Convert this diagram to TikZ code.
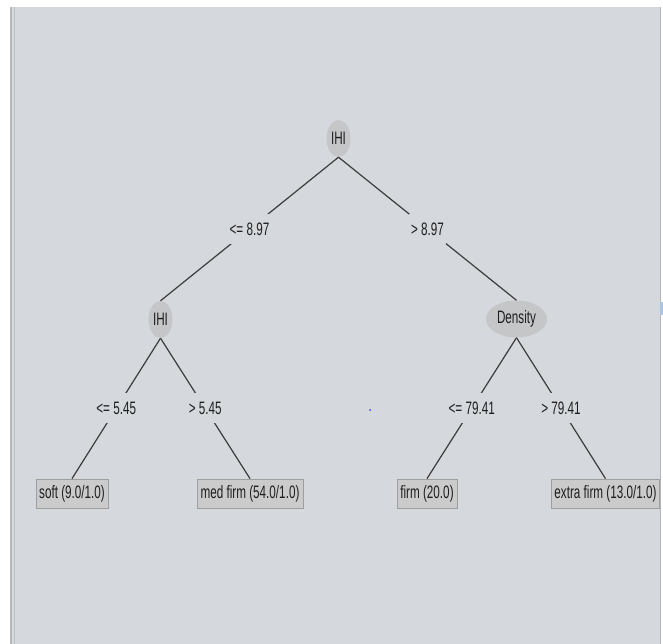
\documentclass[tikz,border=0pt]{standalone}
\usepackage{fontspec}
\setmainfont[FakeStretch=0.65]{Liberation Sans}
\usetikzlibrary{shapes.geometric}
\definecolor{panel}{HTML}{D5D8DD}
\definecolor{panelEdge}{HTML}{B4B7BC}
\definecolor{nodefill}{HTML}{C5C6C8}
\definecolor{leaffill}{HTML}{CBCBCB}
\definecolor{leafedge}{HTML}{9E9E9E}
\definecolor{edgecol}{HTML}{3C3C3C}
\definecolor{txt}{HTML}{1E1E1E}
\definecolor{markblue}{HTML}{A9C6E6}
\begin{document}
\begin{tikzpicture}[x=1pt,y=-1pt,
  every node/.style={font=\fontsize{18}{20}\selectfont, text=txt},
  split/.style={ellipse, fill=nodefill, inner sep=0pt, minimum height=37pt},
  leaf/.style={rectangle, fill=leaffill, draw=leafedge, line width=0.8pt, inner sep=0pt, minimum height=29pt},
  conn/.style={draw=edgecol, line width=1.2pt},
  lbl/.style={fill=panel, inner xsep=2pt, inner ysep=8.5pt, text height=13pt, text depth=0pt}
]
\useasboundingbox (0,0) rectangle (663,644);
\fill[white] (0,0) rectangle (663,644);
\fill[panel] (10,7) rectangle (661,644);
\fill[panelEdge] (10,7) rectangle (12,644);
\fill[panelEdge!80!panel] (14,7) rectangle (15,644);
\fill[panelEdge] (660,7) rectangle (661,644);
\fill[markblue] (660,302) rectangle (663,315);
\fill[blue!75] (370,410) circle (1pt);

\node[split, minimum width=24pt] (root) at (338.5,138.5) {IHI};
\node[split, minimum width=24pt] (ihiL) at (160.5,319.5) {IHI};
\node[split, minimum width=61pt] (dens) at (516.5,319) {Density};

\node[leaf, minimum width=72pt] (soft) at (72,493.5) {soft (9.0/1.0)};
\node[leaf, minimum width=106pt] (med) at (250,493.5) {med firm (54.0/1.0)};
\node[leaf, minimum width=60pt] (firm) at (427,493.5) {firm (20.0)};
\node[leaf, minimum width=108pt] (xfirm) at (605.5,493.5) {extra firm (13.0/1.0)};

\draw[conn] (root.south) -- node[lbl] {<= 8.97} (ihiL.north);
\draw[conn] (root.south) -- node[lbl] {> 8.97} (dens.north);
\draw[conn] (ihiL.south) -- node[lbl] {<= 5.45} (soft.north);
\draw[conn] (ihiL.south) -- node[lbl] {> 5.45} (med.north);
\draw[conn] (dens.south) -- node[lbl] {<= 79.41} (firm.north);
\draw[conn] (dens.south) -- node[lbl] {> 79.41} (xfirm.north);
\end{tikzpicture}
\end{document}
